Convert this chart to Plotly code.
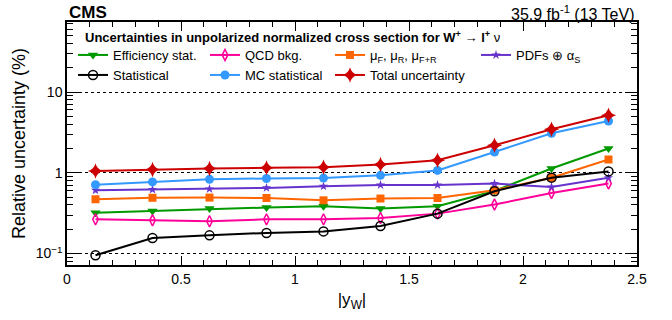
import plotly.graph_objects as go

x = [0.125, 0.375, 0.625, 0.875, 1.125, 1.375, 1.625, 1.875, 2.125, 2.375]
eff_stat = [0.32, 0.336, 0.36, 0.371, 0.385, 0.36, 0.385, 0.595, 1.13, 2.0]
qcd_bkg = [0.265, 0.258, 0.251, 0.265, 0.265, 0.275, 0.312, 0.404, 0.562, 0.735]
scales = [0.47, 0.49, 0.493, 0.487, 0.456, 0.48, 0.487, 0.607, 0.87, 1.46]
pdfs = [0.607, 0.62, 0.63, 0.65, 0.68, 0.706, 0.706, 0.735, 0.667, 0.87]
statistical = [0.095, 0.156, 0.168, 0.18, 0.188, 0.219, 0.312, 0.59, 0.87, 1.04]
mc_stat = [0.71, 0.77, 0.83, 0.85, 0.86, 0.93, 1.07, 1.81, 3.09, 4.38]
total = [1.05, 1.1, 1.13, 1.15, 1.17, 1.27, 1.43, 2.19, 3.46, 5.16]

x_ticks = [0, 0.5, 1, 1.5, 2, 2.5]
x_ticklabels = ["0", "0.5", "1", "1.5", "2", "2.5"]
y_ticks = [0.1, 1, 10]
y_ticklabels = ["10<sup>−1</sup>", "1", "10"]

FONT = "Liberation Sans, Arial, Helvetica, sans-serif"

series = [
    ("Efficiency stat.", eff_stat, "#009900", dict(symbol="triangle-down", size=9), "legend"),
    ("QCD bkg.", qcd_bkg, "#ff0099", dict(symbol="diamond-tall-open", size=8, line=dict(width=1.5)), "legend2"),
    ("μ<sub>F</sub>, μ<sub>R</sub>, μ<sub>F+R</sub>", scales, "#ff6600", dict(symbol="square", size=8), "legend3"),
    ("PDFs ⊕ α<sub>S</sub>", pdfs, "#6633cc", dict(symbol="star", size=7), "legend4"),
    ("Statistical", statistical, "#000000", dict(symbol="circle-open", size=9, line=dict(width=1.5)), "legend5"),
    ("MC statistical", mc_stat, "#3399ff", dict(symbol="circle", size=9), "legend6"),
    ("Total uncertainty", total, "#cc0000", dict(symbol="star-diamond", size=11), "legend7"),
]

fig = go.Figure()
for name, vals, col, mk, lg in series:
    m = dict(color=col, **mk)
    fig.add_trace(go.Scatter(x=x, y=vals, mode="lines+markers", name=name,
                             line=dict(color=col, width=2), marker=m, legend=lg))

W = 672; H = 320
L = 67; R = 637; T = 22; B = 265
def px(xp):
    return (xp - L) / (R - L)
def py(yp):
    return (B - yp) / (B - T)

leg_pos = {
    "legend": (73, 55), "legend2": (205, 55), "legend3": (330, 55), "legend4": (476, 55),
    "legend5": (73, 75), "legend6": (205, 75), "legend7": (330, 75),
}
legs = {}
for k, (xp, yp) in leg_pos.items():
    legs[k] = dict(x=px(xp), y=py(yp), xanchor="left", yanchor="middle",
                   bgcolor="rgba(0,0,0,0)", borderwidth=0,
                   font=dict(family=FONT, size=13, color="black"),
                   orientation="h", tracegroupgap=0)

fig.update_layout(
    width=W, height=H,
    margin=dict(l=L, r=W - R, t=T, b=H - B, autoexpand=False),
    paper_bgcolor="white", plot_bgcolor="white",
    font=dict(family=FONT, size=14, color="black"),
    showlegend=True,
    **legs,
)

fig.update_xaxes(
    range=[0, 2.5], tickmode="array", tickvals=x_ticks, ticktext=x_ticklabels,
    ticks="inside", ticklen=9, tickwidth=1, tickcolor="black",
    showline=True, linecolor="black", linewidth=1.5, mirror="allticks",
    showgrid=False, zeroline=False, automargin=False,
    tickfont=dict(size=14),
    minor=dict(ticks="inside", ticklen=5, tickcolor="black", dtick=0.1, showgrid=False),
    title=dict(text="|y<sub>W</sub>|", font=dict(size=17), standoff=8),
)
minor_y = [v * d for d in (0.01, 0.1, 1, 10) for v in range(2, 10)]
fig.update_yaxes(
    type="log", range=[-1.142, 1.867], tickmode="array", tickvals=y_ticks, ticktext=y_ticklabels,
    ticks="inside", ticklen=12, tickwidth=1, tickcolor="black",
    showline=True, linecolor="black", linewidth=1.5, mirror="allticks",
    showgrid=True, gridcolor="black", griddash="dot", gridwidth=1, zeroline=False, automargin=False,
    tickfont=dict(size=14),
    minor=dict(ticks="inside", ticklen=6, tickcolor="black", tickvals=minor_y, showgrid=False),
    title=dict(text="Relative uncertainty (%)", font=dict(size=18), standoff=5),
)

fig.add_annotation(x=0, y=1, xref="paper", yref="paper", xanchor="left", yanchor="bottom",
                   text="<b>CMS</b>", showarrow=False, font=dict(size=17, family=FONT), yshift=-2)
fig.add_annotation(x=1, y=1, xref="paper", yref="paper", xanchor="right", yanchor="bottom",
                   text="35.9 fb<sup>-1</sup> (13 TeV)", showarrow=False, font=dict(size=16, family=FONT), yshift=-3)
fig.add_annotation(x=px(83), y=py(37), xref="paper", yref="paper", xanchor="left", yanchor="middle",
                   text="<b>Uncertainties in unpolarized normalized cross section for W<sup>+</sup></b> → <b>l<sup>+</sup></b> ν",
                   showarrow=False, font=dict(size=13, family=FONT))

fig.write_html("out.html", config={"displayModeBar": False},
               post_script="document.body.style.margin='0';document.body.style.padding='0';document.body.style.overflow='hidden';")
